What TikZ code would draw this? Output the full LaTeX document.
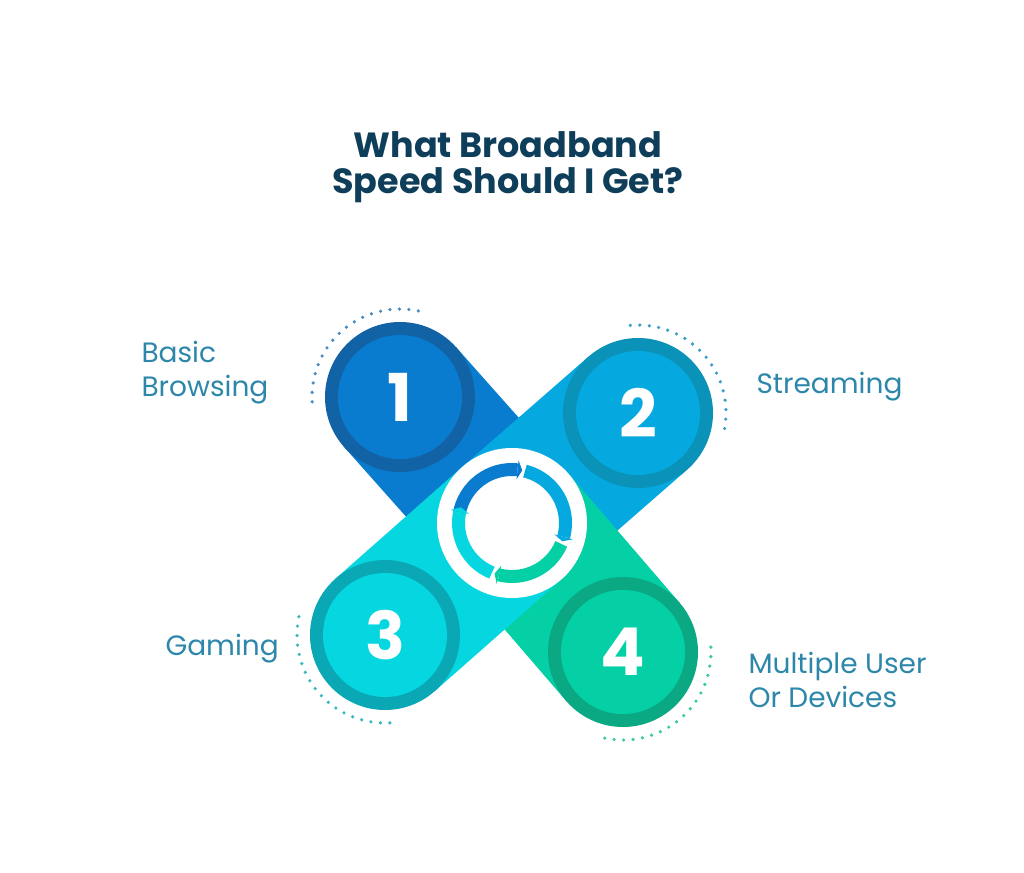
\documentclass[tikz,border=0pt]{standalone}
\usepackage{fontspec}
\setmainfont{Poppins}
\usetikzlibrary{calc}
\definecolor{titlec}{HTML}{0E3E5A}
\definecolor{labc}{HTML}{2C87AA}
\definecolor{aA}{HTML}{0A7CD0}\definecolor{rA}{HTML}{1262A6}\definecolor{dA}{HTML}{4A8CC0}
\definecolor{aB}{HTML}{05A9E0}\definecolor{rB}{HTML}{0A92B8}\definecolor{dB}{HTML}{3A9FC8}
\definecolor{aC}{HTML}{05D6E0}\definecolor{rC}{HTML}{0AA8B4}\definecolor{dC}{HTML}{3BB8C0}
\definecolor{aD}{HTML}{05CFA5}\definecolor{rD}{HTML}{0AA984}\definecolor{dD}{HTML}{3ACBA0}
\tikzset{
 num/.style={text=white,font=\fontsize{66}{66}\selectfont\bfseries},
 lab/.style={text=labc,font=\fontsize{28}{34}\selectfont,align=left,anchor=west},
 dots/.style={line width=3.6pt,line cap=round,dash pattern=on 0pt off 9.5pt},
}
\newcommand{\arm}[4]{% center name, fill, ring, number
 \fill[#2] ($(#1)!75pt!90:(c0)$) -- ($(c0)!75pt!-90:(#1)$) -- ($(c0)!75pt!90:(#1)$) -- ($(#1)!75pt!-90:(c0)$) -- cycle;
 \fill[#3] (#1) circle (75pt);
 \fill[#2] (#1) circle (62pt);
 \node[num] (n#4) at (#1) {#4};
}
\begin{document}
\begin{tikzpicture}[x=1pt,y=-1pt]
\useasboundingbox (0,0) rectangle (1024,872);
\fill[white] (0,0) rectangle (1024,872);
\coordinate (c0) at (512,523);
\coordinate (c1) at (400,397);
\coordinate (c2) at (638,413);
\coordinate (c3) at (385,635);
\coordinate (c4) at (623,652);
\node[text=titlec,font=\fontsize{35}{36}\selectfont\bfseries,align=center] (title) at (508,167) {What Broadband\\Speed Should I Get?};
\draw[dots,dA] (c1) ++(78:88pt) arc[start angle=78,end angle=185,radius=88pt];
\draw[dots,dB] (c2) ++(95:88pt) arc[start angle=95,end angle=-12,radius=88pt];
\draw[dots,dC] (c3) ++(168:88pt) arc[start angle=168,end angle=275,radius=88pt];
\draw[dots,dD] (c4) ++(-102:88pt) arc[start angle=-102,end angle=4,radius=88pt];
\arm{c1}{aA}{rA}{1}
\arm{c2}{aB}{rB}{2}
\arm{c4}{aD}{rD}{4}
\arm{c3}{aC}{rC}{3}
\fill[white] (c0) circle (75pt);
% cycle arrows
\draw[aA,line width=13pt] (c0) ++(170:53.5pt) arc[start angle=170,end angle=84,radius=53.5pt];
\draw[aB,line width=13pt] (c0) ++(76:53.5pt) arc[start angle=76,end angle=-15,radius=53.5pt];
\draw[aD,line width=13pt] (c0) ++(-23:53.5pt) arc[start angle=-23,end angle=-104,radius=53.5pt];
\draw[aC,line width=13pt] (c0) ++(-112:53.5pt) arc[start angle=-112,end angle=-192,radius=53.5pt];
\foreach \a/\c in {84/aA,-15/aB,-104/aD,-192/aC}{
 \fill[\c] ($(c0)+(\a:44pt)$) -- ($(c0)+(\a-5:53.5pt)$) -- ($(c0)+(\a:63pt)$) -- cycle;
}
\node[lab] (l1) at (138,373) {Basic\\Browsing};
\node[lab] (l2) at (753,387) {Streaming};
\node[lab] (l3) at (162,649) {Gaming};
\node[lab] (l4) at (745,680) {Multiple User\\Or Devices};
\end{tikzpicture}
\end{document}
